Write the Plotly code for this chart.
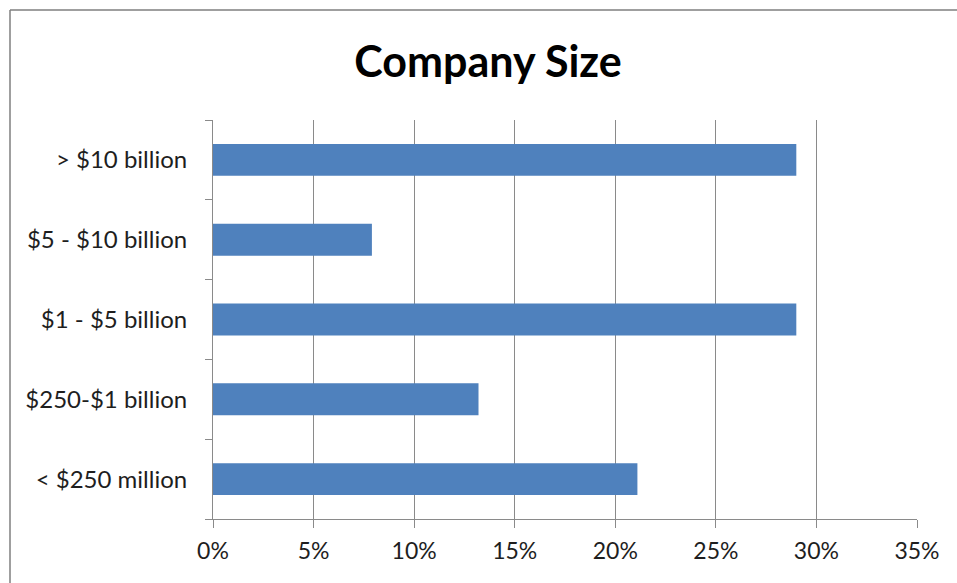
import plotly.graph_objects as go

categories = ["> $10 billion", "$5 - $10 billion", "$1 - $5 billion", "$250-$1 billion", "< $250 million"]
values = [0.290, 0.079, 0.290, 0.132, 0.211]
tick_vals = [0, 0.05, 0.10, 0.15, 0.20, 0.25, 0.30, 0.35]
tick_text = ["0%", "5%", "10%", "15%", "20%", "25%", "30%", "35%"]
title_text = "Company Size"

W, H = 957, 583
L, T = 213, 120
R = W - 917
B = H - 519

fig = go.Figure()
fig.add_trace(go.Bar(
    x=values, y=categories, orientation="h",
    marker=dict(color="#4F81BD", line=dict(width=0)),
    width=0.4,
    hoverinfo="x+y",
))

font_family = "Lato, 'Open Sans', sans-serif"
fig.update_layout(
    width=W, height=H,
    margin=dict(l=L, r=R, t=T, b=B, pad=0),
    paper_bgcolor="white", plot_bgcolor="white",
    showlegend=False,
    title=dict(text="<b>" + title_text + "</b>", x=488 / W, xref="container",
               y=1 - 62 / H, yref="container", xanchor="center", yanchor="middle",
               font=dict(family=font_family, size=43, color="#000000")),
    font=dict(family=font_family, size=24, color="#1e1e1e"),
    xaxis=dict(range=[0, 0.35], tickvals=tick_vals, ticktext=tick_text,
               showgrid=True, gridcolor="#8a8a8a", gridwidth=1,
               showline=True, linecolor="#8a8a8a", linewidth=1,
               ticks="outside", ticklen=8, tickcolor="#8a8a8a",
               ticklabelstandoff=3,
               zeroline=False, fixedrange=True,
               tickfont=dict(size=23, color="#1e1e1e")),
    yaxis=dict(categoryorder="array", categoryarray=categories[::-1],
               showgrid=False, showline=True, linecolor="#8a8a8a", linewidth=1,
               ticks="outside", tickson="boundaries", ticklen=7, tickcolor="#8a8a8a",
               ticklabelstandoff=20, fixedrange=True,
               tickfont=dict(size=24, color="#1e1e1e")),
)

# chart border (top and left edges visible)
pw = W - L - R
ph = H - T - B
x_left = (10 - L) / pw
y_top = (H - B - 10) / ph
fig.add_shape(type="line", xref="paper", yref="paper", x0=x_left, x1=(W - L) / pw,
              y0=y_top, y1=y_top, line=dict(color="#7f7f7f", width=1.5))
fig.add_shape(type="line", xref="paper", yref="paper", x0=x_left, x1=x_left,
              y0=y_top, y1=-B / ph, line=dict(color="#7f7f7f", width=1.5))

fig.write_html(
    "out.html",
    config={"displayModeBar": False},
    post_script="document.body.style.margin='0';document.body.style.overflow='hidden';",
)
